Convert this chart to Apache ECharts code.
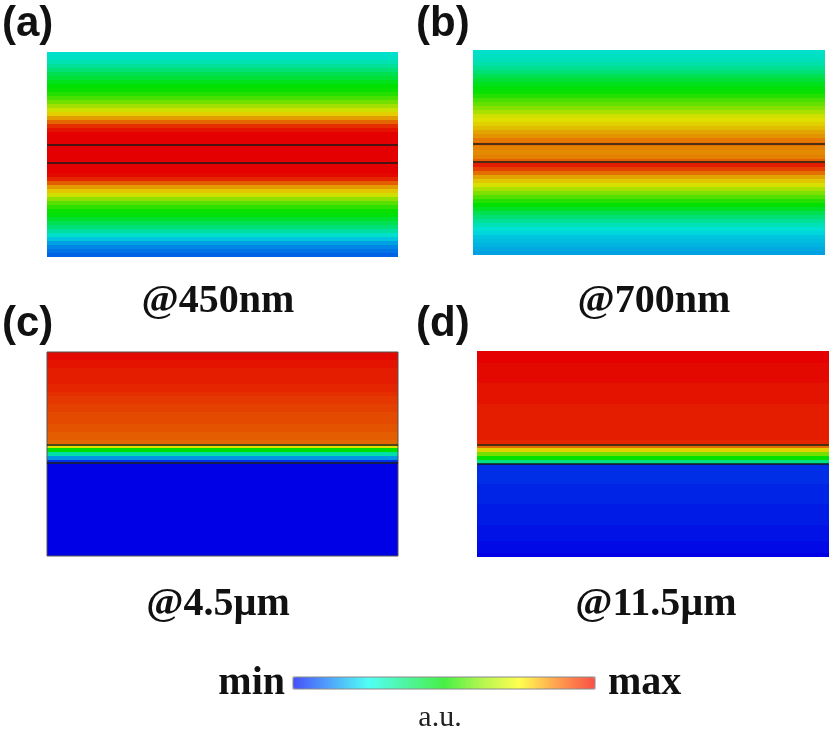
<!DOCTYPE html>
<html>
<head>
<meta charset="utf-8">
<script src="https://cdn.jsdelivr.net/npm/echarts@6/dist/echarts.min.js"></script>
<style>
  html, body { margin: 0; padding: 0; background: #fff; }
  #chart { width: 832px; height: 731px; }
</style>
</head>
<body>
<div id="chart"></div>
<script>
// normalised field intensity (0 = min, 100 = max), one value per depth slice, top to bottom
var fieldA = [27, 28, 30, 33, 37, 41, 44, 47, 50, 51, 54, 58, 63, 68, 73, 77, 83, 89, 95, 98,
  100, 100, 100, 100, 100, 100, 100, 100, 100, 100, 99, 96, 90, 83, 78, 73, 66, 60, 55, 51,
  49, 45, 41, 37, 32, 27, 22, 18, 15, 13, 11];
var fieldB = [27, 28, 29, 31, 34, 37, 41, 44, 47, 49, 51, 54, 58, 61, 65, 69, 73, 75, 77, 79,
  82, 84, 87, 88, 86, 85, 86, 90, 97, 93, 88, 82, 78, 74, 69, 64, 59, 54, 50, 46,
  41, 37, 33, 29, 26, 24, 22, 21, 20, 19, 18];
var fieldC = [99, 99, 98, 98, 97, 97, 97, 97, 96, 96, 95, 94, 94, 93, 93, 92, 92, 92, 91, 91,
  90, 90, 89, 75, 50, 31, 17, 5, 0, 0, 0, 0, 0, 0, 0, 0, 0, 0, 0, 0,
  0, 0, 0, 0, 0, 0, 0, 0, 0, 0, 0];
var fieldD = [100, 100, 100, 99, 99, 99, 99, 99, 98, 98, 98, 98, 98, 97, 97, 97, 97, 97, 97, 97,
  97, 97, 96, 88, 77, 63, 50, 35, 5, 5, 5, 5, 5, 4, 4, 4, 4, 4, 3, 3,
  3, 3, 3, 2, 2, 2, 2, 1, 1, 1, 0];

// layer interfaces, in depth-slice units
var layersA = [23.1, 27.6];
var layersB = [23.4, 27.9];
var layersC = [23.1, 27.6];
var layersD = [23.1, 27.9];

var panelLabels = ['(a)', '(b)', '(c)', '(d)'];
var wavelengths = ['@450nm', '@700nm', '@4.5\u00b5m', '@11.5\u00b5m'];

var fieldColors = ['#0000e6', '#0070e6', '#00e0dc', '#00e070', '#00e000', '#70e000', '#e0e000', '#e47400', '#e40000'];
var barColors = ['#4650fa', '#50a8fa', '#50fff5', '#50f5a0', '#46f046', '#b4f550', '#ffff50', '#ffa050', '#fa5046'];

var myChart = echarts.init(document.getElementById('chart'));

var fields = [fieldA, fieldB, fieldC, fieldD];
var layers = [layersA, layersB, layersC, layersD];
var rows = fieldA.length;

var grids = [
  { left: 47, top: 52, width: 351, height: 205 },
  { left: 473, top: 50, width: 352, height: 205 },
  { left: 47, top: 352, width: 351, height: 204, show: true, borderColor: '#555', borderWidth: 1, z: 5 },
  { left: 477, top: 351, width: 352, height: 206 }
];

function renderSlice(params, api) {
  var r = api.value(0);
  var p0 = api.coord([0, r]);
  var p1 = api.coord([1, r + 1]);
  var y0 = Math.round(p0[1]);
  var y1 = Math.round(p1[1]);
  return {
    type: 'rect',
    shape: { x: p0[0], y: y0, width: p1[0] - p0[0], height: y1 - y0 },
    style: { fill: api.visual('color') }
  };
}

var xAxes = [], yAxes = [], series = [];
fields.forEach(function (vals, k) {
  xAxes.push({ gridIndex: k, type: 'value', min: 0, max: 1, show: false });
  yAxes.push({ gridIndex: k, type: 'value', min: 0, max: rows, inverse: true, show: false });
  series.push({
    type: 'custom',
    xAxisIndex: k,
    yAxisIndex: k,
    renderItem: renderSlice,
    data: vals.map(function (v, i) { return [i, v]; }),
    animation: false,
    silent: true,
    markLine: {
      silent: true,
      symbol: 'none',
      label: { show: false },
      lineStyle: { color: '#1a1a1a', width: 1.5, type: 'solid' },
      data: layers[k].map(function (d) { return { yAxis: d }; }),
      animation: false
    }
  });
});

var labelPos = [[2, 24], [416, 24], [2, 324], [416, 324]];
var captionPos = [[218, 302], [654, 302], [218, 605], [656, 605]];
var texts = [];
panelLabels.forEach(function (t, k) {
  texts.push({
    type: 'text', x: labelPos[k][0], y: labelPos[k][1],
    style: { text: t, font: 'bold 42px "Liberation Sans"', fill: '#111', align: 'left', verticalAlign: 'middle' }
  });
  texts.push({
    type: 'text', x: captionPos[k][0], y: captionPos[k][1],
    style: { text: wavelengths[k], font: 'bold 40px "Liberation Serif"', fill: '#111', align: 'center', verticalAlign: 'middle' }
  });
});
texts.push({
  type: 'text', x: 285, y: 684,
  style: { text: 'min', font: 'bold 40px "Liberation Serif"', fill: '#111', align: 'right', verticalAlign: 'middle' }
});
texts.push({
  type: 'text', x: 608, y: 684,
  style: { text: 'max', font: 'bold 40px "Liberation Serif"', fill: '#111', align: 'left', verticalAlign: 'middle' }
});
texts.push({
  type: 'text', x: 440, y: 718,
  style: { text: 'a.u.', font: '30px "Liberation Serif"', fill: '#222', align: 'center', verticalAlign: 'middle' }
});
texts.push({
  type: 'rect', z: 100,
  shape: { x: 293, y: 677, width: 302, height: 12 },
  style: { fill: null, stroke: '#8a8a8a', lineWidth: 1 }
});

var option = {
  backgroundColor: '#fff',
  animation: false,
  grid: grids,
  xAxis: xAxes,
  yAxis: yAxes,
  visualMap: {
    type: 'continuous',
    min: 0,
    max: 100,
    dimension: 1,
    seriesIndex: [0, 1, 2, 3],
    orient: 'horizontal',
    left: 293,
    top: 677,
    padding: 0,
    itemWidth: 12,
    itemHeight: 302,
    calculable: false,
    inRange: { color: fieldColors },
    controller: { inRange: { color: barColors } }
  },
  graphic: texts,
  series: series
};

myChart.setOption(option);
</script>
</body>
</html>
